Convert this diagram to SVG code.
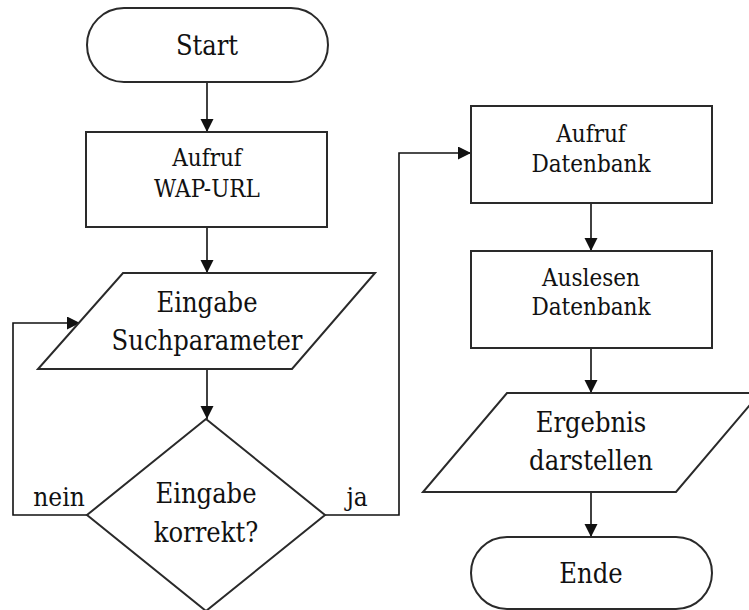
<svg xmlns="http://www.w3.org/2000/svg" width="749" height="610" viewBox="0 0 749 610">
  <style>
    .shape { fill: #ffffff; stroke: #2a2a2a; stroke-width: 2; }
    .edge { fill: none; stroke: #111111; stroke-width: 1.6; }
    text { font-family: 'DejaVu Serif Condensed', 'DejaVu Serif', serif; fill: #111111; text-anchor: middle; }
    .lg { font-size: 27px; }
    .md { font-size: 24px; }
    .lbl { font-size: 26px; }
  </style>
  <defs>
    <marker id="arrow" markerUnits="userSpaceOnUse" markerWidth="14" markerHeight="14" refX="13" refY="6.5" orient="auto">
      <path d="M0,0 L13,6.5 L0,13 z" fill="#111111"/>
    </marker>
  </defs>
  <rect width="749" height="610" fill="#ffffff"/>

  <!-- connectors -->
  <g id="connectors">
    <path class="edge" d="M207,82 L207,132" marker-end="url(#arrow)"/>
    <path class="edge" d="M207,227 L207,273" marker-end="url(#arrow)"/>
    <path class="edge" d="M207,369 L207,419" marker-end="url(#arrow)"/>
    <path class="edge" d="M87,515 L13,515 L13,323 L80,323" marker-end="url(#arrow)"/>
    <path class="edge" d="M325,515 L399,515 L399,153 L471,153" marker-end="url(#arrow)"/>
    <path class="edge" d="M591,203 L591,251" marker-end="url(#arrow)"/>
    <path class="edge" d="M591,348 L591,393" marker-end="url(#arrow)"/>
    <path class="edge" d="M591,492 L591,537" marker-end="url(#arrow)"/>
    <text class="lbl" x="59" y="506">nein</text>
    <text class="lbl" x="357" y="506">ja</text>
  </g>

  <g id="start">
    <rect class="shape" x="87" y="8" width="241" height="74" rx="37"/>
    <text class="lg" x="207" y="55">Start</text>
  </g>

  <g id="aufruf-wap">
    <rect class="shape" x="86" y="132" width="241" height="95"/>
    <text class="md" x="207" y="166">Aufruf</text>
    <text class="md" x="207" y="197">WAP-URL</text>
  </g>

  <g id="eingabe-such">
    <polygon class="shape" points="123,273 375,273 292,369 38,369"/>
    <text class="lg" x="207" y="312">Eingabe</text>
    <text class="lg" x="207" y="350">Suchparameter</text>
  </g>

  <g id="pruefung">
    <polygon class="shape" points="206,419 325,515 206,611 87,515"/>
    <text class="lg" x="206" y="503">Eingabe</text>
    <text class="lg" x="206" y="542">korrekt?</text>
  </g>

  <g id="aufruf-db">
    <rect class="shape" x="471" y="106" width="241" height="97"/>
    <text class="md" x="591" y="142">Aufruf</text>
    <text class="md" x="591" y="172">Datenbank</text>
  </g>

  <g id="auslesen-db">
    <rect class="shape" x="471" y="251" width="241" height="97"/>
    <text class="md" x="591" y="286">Auslesen</text>
    <text class="md" x="591" y="315">Datenbank</text>
  </g>

  <g id="ergebnis">
    <polygon class="shape" points="507,393 760,393 676,492 423,492"/>
    <text class="lg" x="591" y="432">Ergebnis</text>
    <text class="lg" x="591" y="470">darstellen</text>
  </g>

  <g id="ende">
    <rect class="shape" x="471" y="537" width="241" height="72" rx="36"/>
    <text class="lg" x="591" y="583">Ende</text>
  </g>
</svg>
